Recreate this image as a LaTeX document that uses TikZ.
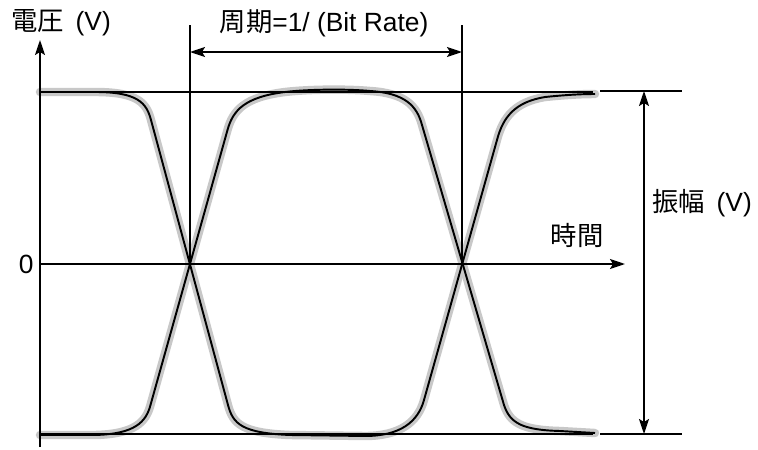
\documentclass[tikz,border=0pt]{standalone}
\usepackage{fontspec}
\setmainfont{Liberation Sans}
\newfontfamily\jpfont{Noto Sans CJK JP}
\usetikzlibrary{arrows.meta, positioning}
\definecolor{traceGray}{HTML}{C8C8C8}

\begin{document}
\begin{tikzpicture}[x=0.02cm, y=-0.02cm,
    guide/.style={draw, line width=0.9pt},
    axisArrow/.style={draw, line width=1pt, -{Stealth[length=0.3cm, width=0.2cm, inset=0.06cm]}},
    dimArrow/.style={draw, line width=1pt, {Stealth[length=0.3cm, width=0.2cm, inset=0.06cm]}-{Stealth[length=0.3cm, width=0.2cm, inset=0.06cm]}},
    traceHalo/.style={draw=traceGray, line width=4.8pt, line join=round, line cap=round},
    trace/.style={draw=black, line width=1.1pt, line join=round},
    lbl/.style={font=\fontsize{15}{18}\selectfont, inner sep=0pt},
]
\useasboundingbox (0,0) rectangle (758,450);
\coordinate (yBot) at (40,447);
\coordinate (yTop) at (40,40);
\coordinate (xLeft) at (40,264);
\coordinate (xRight) at (625,264);
\coordinate (crossA) at (190,264);
\coordinate (crossB) at (462,264);
\coordinate (markA) at (190,25);
\coordinate (markB) at (462,25);
\coordinate (perA) at (190,52);
\coordinate (perB) at (462,52);
\coordinate (hiL) at (40,92);
\coordinate (hiR) at (593,92);
\coordinate (loL) at (40,434);
\coordinate (loR) at (593,434);
\coordinate (ampHiL) at (600,91);
\coordinate (ampHiR) at (682,91);
\coordinate (ampLoL) at (600,434);
\coordinate (ampLoR) at (682,434);
\coordinate (ampHi) at (644,91);
\coordinate (ampLo) at (644,434);

\foreach \sty in {traceHalo, trace} {
  \draw[\sty] (40,92) -- (95,92) .. controls (138,92) and (146.5,103) .. (151,120) -- (228,405)
    .. controls (233,424) and (242,433) .. (290,435) -- (365,436)
    .. controls (400,436) and (418,422) .. (424,400) -- (497,140)
    .. controls (503,117) and (515,102) .. (545,97) .. controls (565,95) and (580,94) .. (595,94);
  \draw[\sty] (40,435) -- (95,435) .. controls (135,434) and (146,422) .. (150.5,405) -- (227.5,130)
    .. controls (233,110) and (245,97) .. (285,92) .. controls (310,89) and (350,89) .. (370,91)
    .. controls (405,93) and (417,106) .. (422,125) -- (504,405)
    .. controls (510,423) and (522,430) .. (560,431) -- (595,433);
}

\draw[guide] (hiL) -- (hiR);
\draw[guide] (loL) -- (loR);
\draw[guide] (ampHiL) -- (ampHiR);
\draw[guide] (ampLoL) -- (ampLoR);
\draw[guide] (markA) -- (crossA);
\draw[guide] (markB) -- (crossB);
\draw[axisArrow] (yBot) -- (yTop);
\draw[axisArrow] (xLeft) -- (xRight);
\draw[dimArrow] (perA) -- (perB);
\draw[dimArrow] (ampHi) -- (ampLo);

\node[lbl] (voltLabel) at (61,23) {{\jpfont 電圧}\hspace{0.45em}(V)};
\node[lbl] (periodLabel) at (324,23) {{\jpfont 周期}=1/ (Bit Rate)};
\node[lbl] (timeLabel) at (577,235) {\jpfont 時間};
\node[lbl] (ampLabel) at (702,203) {{\jpfont 振幅}\hspace{0.45em}(V)};
\node[lbl, left=3.5pt of xLeft] (zeroLabel) {0};
\end{tikzpicture}
\end{document}
